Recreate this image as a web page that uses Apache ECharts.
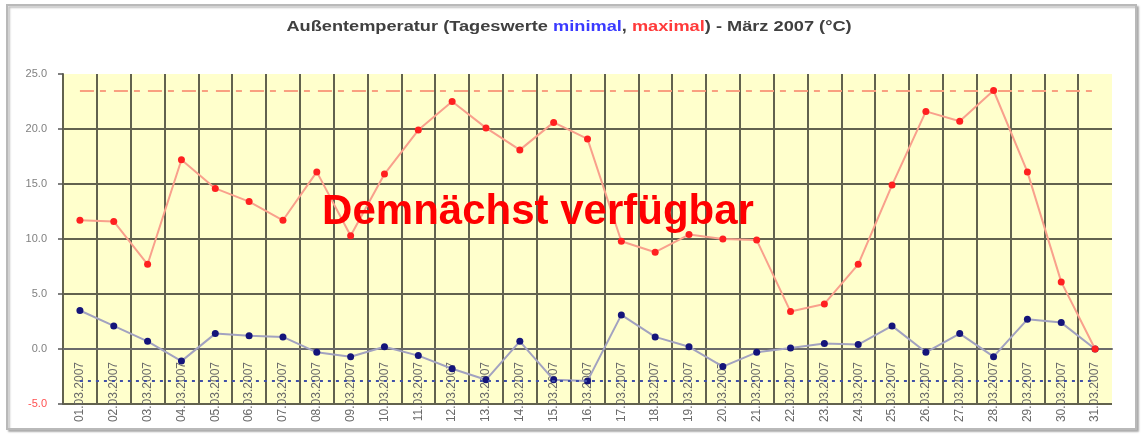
<!DOCTYPE html>
<html>
<head>
<meta charset="utf-8">
<script src="https://cdn.jsdelivr.net/npm/echarts@6/dist/echarts.min.js"></script>
<style>
  html, body { margin: 0; padding: 0; background: #ffffff; }
  #chart { width: 1144px; height: 437px; }
</style>
</head>
<body>
<div id="chart"></div>
<script>
// ---- data ----
const categories = [
  '01.03.2007','02.03.2007','03.03.2007','04.03.2007','05.03.2007','06.03.2007','07.03.2007',
  '08.03.2007','09.03.2007','10.03.2007','11.03.2007','12.03.2007','13.03.2007','14.03.2007',
  '15.03.2007','16.03.2007','17.03.2007','18.03.2007','19.03.2007','20.03.2007','21.03.2007',
  '22.03.2007','23.03.2007','24.03.2007','25.03.2007','26.03.2007','27.03.2007','28.03.2007',
  '29.03.2007','30.03.2007','31.03.2007'
];
const maxValues = [
  11.7, 11.6, 7.7, 17.2, 14.6, 13.4, 11.7, 16.1, 10.3, 15.9,
  19.9, 22.5, 20.1, 18.1, 20.6, 19.1, 9.8, 8.8, 10.4, 10.0,
  9.9, 3.4, 4.1, 7.7, 14.9, 21.6, 20.7, 23.5, 16.1, 6.1, 0.0
];
const minValues = [
  3.5, 2.1, 0.7, -1.1, 1.4, 1.2, 1.1, -0.3, -0.7, 0.2,
  -0.6, -1.8, -2.8, 0.7, -2.8, -2.9, 3.1, 1.1, 0.2, -1.6,
  -0.3, 0.1, 0.5, 0.4, 2.1, -0.3, 1.4, -0.7, 2.7, 2.4, 0.0
];
const yTicks = { min: -5, max: 25, interval: 5 };
const titleParts = ['Außentemperatur (Tageswerte ', 'minimal', ', ', 'maximal', ') - März 2007 (°C)'];
const overlayText = 'Demnächst verfügbar';

// ---- chart ----
const chart = echarts.init(document.getElementById('chart'), null, { renderer: 'canvas' });
const gridColor = '#62624e';
const font = '"Liberation Sans", Arial, sans-serif';

const xSplitColors = categories.map(() => gridColor).concat(['rgba(0,0,0,0)']);
const ySplitColors = [];
for (let v = yTicks.min; v <= yTicks.max; v += yTicks.interval) {
  ySplitColors.push(v === yTicks.max ? 'rgba(0,0,0,0)' : gridColor);
}
const highest = Math.max(...maxValues);
const lowest = Math.min(...minValues);
const firstCat = categories[0];
const lastCat = categories[categories.length - 1];

const option = {
  backgroundColor: '#ffffff',
  animation: false,
  grid: {
    left: 63, right: 32, top: 74, bottom: 33,
    show: true, backgroundColor: '#ffffcc', borderWidth: 0
  },
  graphic: [
    {
      type: 'rect', z: -10,
      shape: { x: 7, y: 5, width: 1129, height: 424 },
      style: { fill: '#ffffff', stroke: '#b9b9b9', lineWidth: 2,
               shadowBlur: 2, shadowOffsetX: 2, shadowOffsetY: 2, shadowColor: 'rgba(0,0,0,0.25)' }
    },
    {
      type: 'text', x: 569, y: 27, scaleX: 1.3, z: 10,
      style: {
        text: '{d|' + titleParts[0] + '}{b|' + titleParts[1] + '}{d|' + titleParts[2] + '}{r|' +
              titleParts[3] + '}{d|' + titleParts[4] + '}',
        align: 'center', verticalAlign: 'middle',
        rich: {
          d: { fontFamily: font, fontWeight: 'bold', fontSize: 14, fill: '#404040' },
          b: { fontFamily: font, fontWeight: 'bold', fontSize: 14, fill: '#3a3aff' },
          r: { fontFamily: font, fontWeight: 'bold', fontSize: 14, fill: '#ff3a3a' }
        }
      }
    },
    {
      type: 'text', x: 538, y: 212, z: 100,
      style: {
        text: overlayText, align: 'center', verticalAlign: 'middle',
        fontFamily: font, fontWeight: 'bold', fontSize: 42, fill: '#ff0000'
      }
    }
  ],
  xAxis: {
    type: 'category',
    data: categories,
    boundaryGap: true,
    axisLine: { show: true, lineStyle: { color: '#6a6a6a', width: 2 } },
    axisTick: { show: false },
    axisLabel: {
      interval: 0, rotate: 90, margin: -42,
      fontFamily: font, fontSize: 12, color: '#6a6a6a'
    },
    splitLine: { show: true, interval: 0, lineStyle: { color: xSplitColors, width: 2 } }
  },
  yAxis: {
    type: 'value',
    min: yTicks.min, max: yTicks.max, interval: yTicks.interval,
    axisLine: { show: true, lineStyle: { color: gridColor, width: 2 } },
    axisTick: { show: true, length: 5, lineStyle: { color: '#555', width: 1.5 } },
    axisLabel: {
      margin: 16, fontFamily: font, fontSize: 11,
      formatter: v => v.toFixed(1),
      color: v => (v < 0 ? '#ff5050' : '#808080')
    },
    splitLine: { show: true, lineStyle: { color: ySplitColors, width: 2 } }
  },
  series: [
    {
      name: 'minimal', type: 'line', data: minValues,
      symbol: 'circle', symbolSize: 7,
      itemStyle: { color: '#14147a' },
      lineStyle: { color: '#a2a2c0', width: 2 },
      markLine: {
        silent: true, symbol: 'none', label: { show: false },
        lineStyle: { color: '#4050a8', width: 2, type: [3, 5] },
        data: [[{ xAxis: firstCat, yAxis: lowest }, { xAxis: lastCat, yAxis: lowest }]]
      },
      z: 3
    },
    {
      name: 'maximal', type: 'line', data: maxValues,
      symbol: 'circle', symbolSize: 7,
      itemStyle: { color: '#ff2020' },
      lineStyle: { color: '#f9a08c', width: 2 },
      markLine: {
        silent: true, symbol: 'none', label: { show: false },
        lineStyle: { color: '#f9a080', width: 2, type: [14, 6, 6, 8] },
        data: [[{ xAxis: firstCat, yAxis: highest }, { xAxis: lastCat, yAxis: highest }]]
      },
      z: 4
    }
  ]
};
chart.setOption(option);
</script>
</body>
</html>
